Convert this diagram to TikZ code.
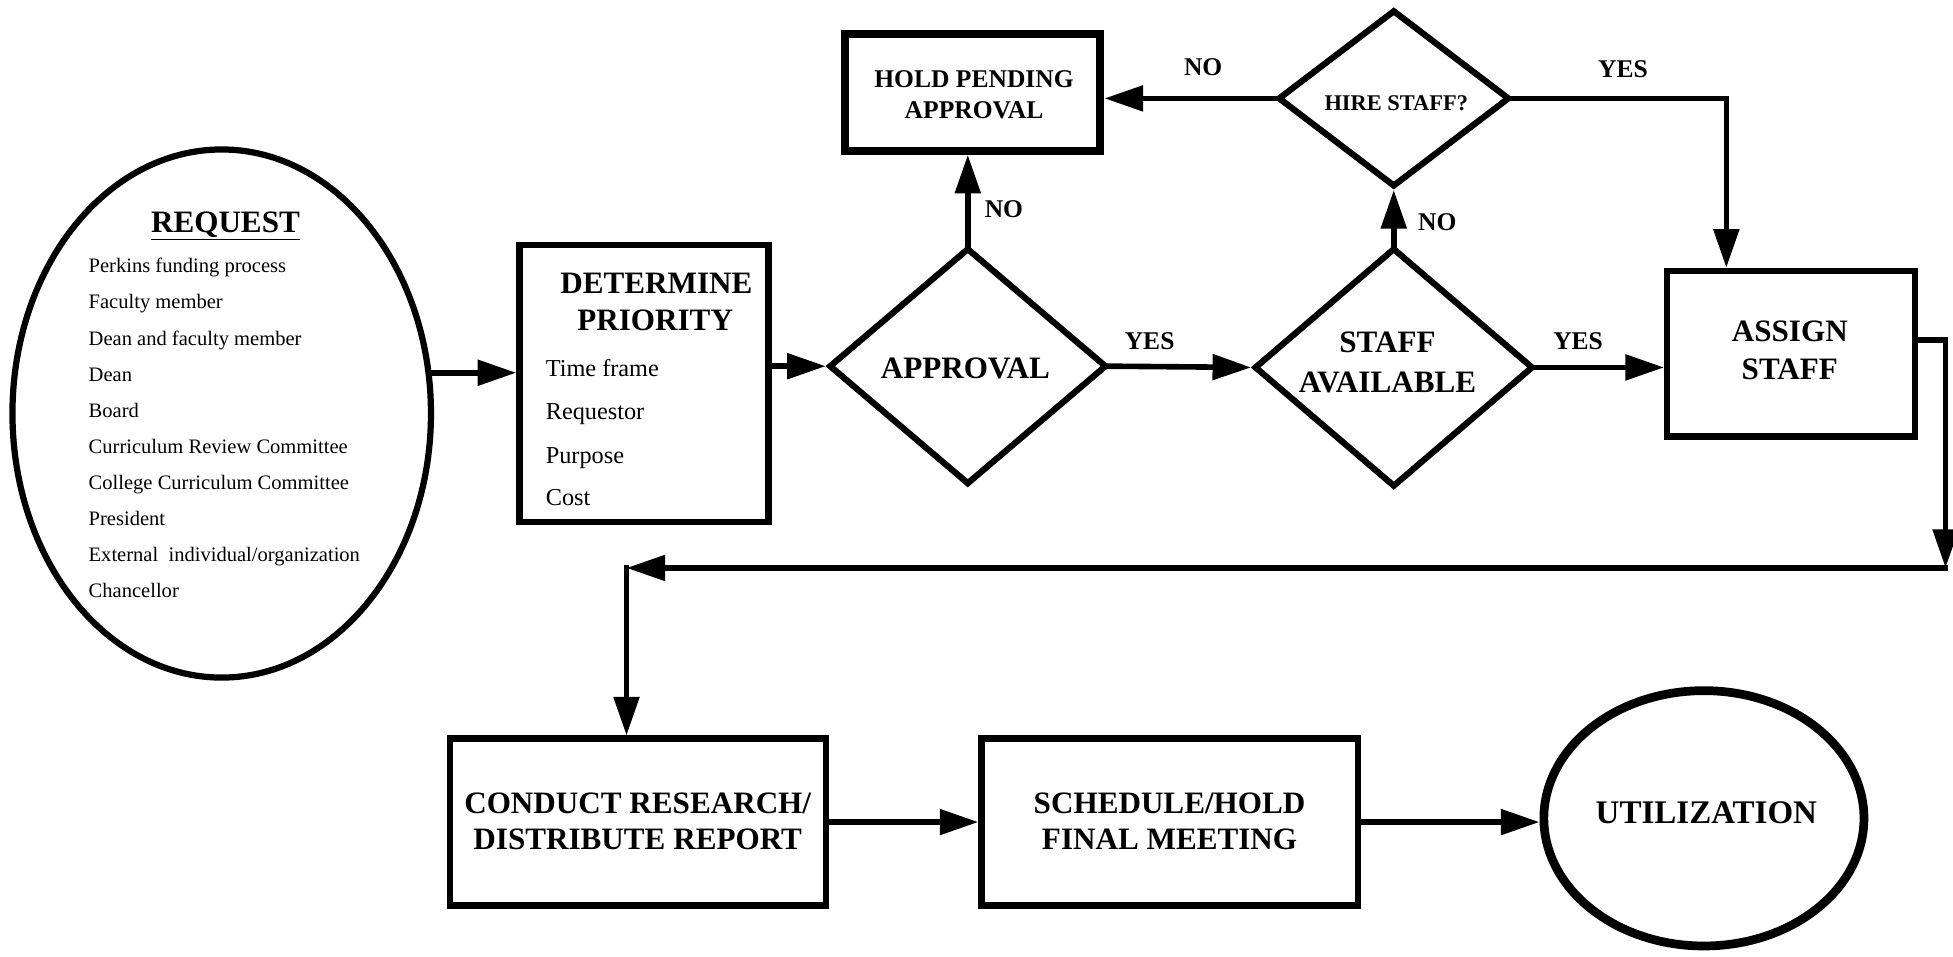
\documentclass[tikz,border=0pt]{standalone}
\usepackage{fontspec}
\setmainfont{Liberation Serif}
\usetikzlibrary{arrows.meta,shapes.geometric}
\begin{document}
\begin{tikzpicture}[x=1pt,y=-1pt,
  arr/.style={line width=4.5pt,line cap=rect,-{Triangle[length=31pt,width=20pt]}},
  ln/.style={line width=4.5pt,line cap=rect},
  box/.style={draw,line width=5pt,rectangle,inner sep=0pt},
  dia/.style={draw,line width=5pt,diamond,inner sep=0pt},
  big/.style={font=\bfseries\fontsize{25}{28}\selectfont,anchor=base,inner sep=0pt},
  lab/.style={font=\bfseries\fontsize{20.5}{24}\selectfont,anchor=base,inner sep=0pt},
  itm/.style={font=\fontsize{19.5}{22}\selectfont,anchor=base west,inner sep=0pt},
  ritm/.style={font=\fontsize{16.5}{19}\selectfont,anchor=base west,inner sep=0pt},
]
\useasboundingbox[fill=white] (0,0) rectangle (1568,768);

% ---- shapes ----
\node[draw,ellipse,line width=5pt,minimum width=336pt,minimum height=424pt,inner sep=0pt] (req) at (178,332) {};
\node[box,minimum width=200pt,minimum height=222pt] (det) at (517,308) {};
\node[dia,minimum width=223pt,minimum height=190pt] (appr) at (777,294) {};
\node[box,line width=6.5pt,minimum width=205pt,minimum height=94pt] (hold) at (781,74) {};
\node[dia,minimum width=186pt,minimum height=142pt] (hire) at (1119,79) {};
\node[dia,minimum width=224pt,minimum height=192pt] (staff) at (1119,295) {};
\node[box,minimum width=199pt,minimum height=133pt] (assign) at (1438,284) {};
\node[box,minimum width=302pt,minimum height=134pt] (conduct) at (512,660) {};
\node[box,minimum width=302pt,minimum height=134pt] (sched) at (939,660) {};
\node[draw,ellipse,line width=7pt,minimum width=257pt,minimum height=205pt,inner sep=0pt] (util) at (1368,657) {};

% ---- texts ----
\node[big] (reqt) at (181,187) {\underline{REQUEST}};
\node[ritm] (r1) at (71,219) {Perkins funding process};
\node[ritm] (r2) at (71,248) {Faculty member};
\node[ritm] (r3) at (71,277) {Dean and faculty member};
\node[ritm] (r4) at (71,306) {Dean};
\node[ritm] (r5) at (71,335) {Board};
\node[ritm] (r6) at (71,364) {Curriculum Review Committee};
\node[ritm] (r7) at (71,393) {College Curriculum Committee};
\node[ritm] (r8) at (71,422) {President};
\node[ritm] (r9) at (71,451) {External\ \ individual/organization};
\node[ritm] (r10) at (71,480) {Chancellor};

\node[big] (dt1) at (527,236) {DETERMINE};
\node[big] (dt2) at (526,265) {PRIORITY};
\node[itm] (d1) at (438,302) {Time frame};
\node[itm] (d2) at (438,337) {Requestor};
\node[itm] (d3) at (438,372) {Purpose};
\node[itm] (d4) at (438,406) {Cost};

\node[big] (apt) at (775,304) {APPROVAL};
\node[lab] (ho1) at (782,70) {HOLD PENDING};
\node[lab] (ho2) at (782,95) {APPROVAL};
\node[lab,font=\bfseries\fontsize{18}{20}\selectfont] (hit) at (1121,89) {HIRE STAFF?};
\node[big] (st1) at (1114,283) {STAFF};
\node[big] (st2) at (1114,315) {AVAILABLE};
\node[big] (as1) at (1437,274) {ASSIGN};
\node[big] (as2) at (1437,305) {STAFF};
\node[big] (co1) at (512,653) {CONDUCT RESEARCH/};
\node[big] (co2) at (512,682) {DISTRIBUTE REPORT};
\node[big] (sc1) at (939,653) {SCHEDULE/HOLD};
\node[big] (sc2) at (939,682) {FINAL MEETING};
\node[big,font=\bfseries\fontsize{26.5}{30}\selectfont] (ut) at (1370,661) {UTILIZATION};

\node[lab] (no1) at (966,61) {NO};
\node[lab] (no2) at (806,175) {NO};
\node[lab] (no3) at (1154,185) {NO};
\node[lab] (yes1) at (923,281) {YES};
\node[lab] (yes2) at (1267,281) {YES};
\node[lab] (yes3) at (1303,62) {YES};

% ---- connectors ----
\coordinate (ty) at (1386,0);
\coordinate (rc) at (1562,273);
\coordinate (rb) at (1562,456);
\coordinate (lb) at (503,456);

\draw[arr] (req.11) -- (req.11 -| det.west);
\draw[arr] (det.east |- appr.west) -- (appr.west);
\draw[arr] (appr.east) -- (staff.west);
\draw[arr] (staff.east) -- (staff.east -| assign.west);
\draw[arr] (appr.north) -- (appr.north |- hold.south);
\draw[arr] (staff.north) -- (hire.south);
\draw[arr] (hire.west) -- (hire.west -| hold.east);
\draw[arr] (hire.east) -- (hire.east -| ty) -- (ty |- assign.north);
\draw[ln] (assign.east |- rc) -- (rc);
\draw[arr] (rc) -- (rb);
\draw[arr] (rb) -- (lb);
\draw[arr] (lb) -- (lb |- conduct.north);
\draw[arr] (conduct.east) -- (sched.west);
\draw[arr] (sched.east) -- (sched.east -| util.west);
\end{tikzpicture}
\end{document}
